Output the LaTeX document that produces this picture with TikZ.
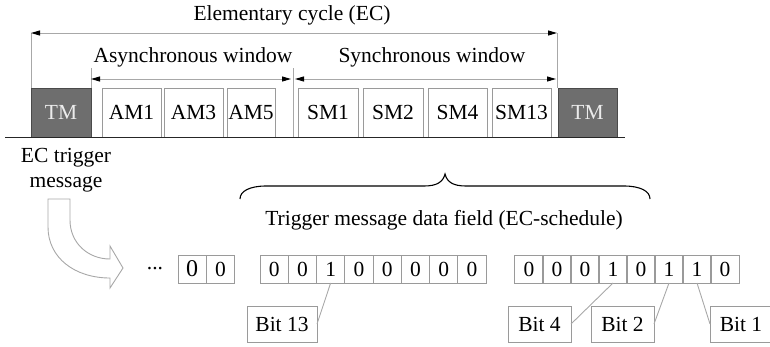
\documentclass[tikz,border=0pt]{standalone}
\usepackage{fontspec}
\setmainfont{Liberation Serif}
\usetikzlibrary{arrows.meta}
\definecolor{tmfill}{HTML}{6E6E6E}
\definecolor{tmdraw}{HTML}{4A4A4A}
\definecolor{boxgray}{HTML}{9A9A9A}
\definecolor{linegray}{HTML}{A8A8A8}
\newcommand{\myfs}{\fontsize{21.5}{26}\selectfont}
\tikzset{
  txt/.style={font=\myfs, inner sep=0pt},
  blk/.style={draw=boxgray, line width=1pt, fill=white, minimum height=49pt, inner sep=0pt, outer sep=0pt, font=\myfs},
  tmblk/.style={blk, draw=tmdraw, fill=tmfill, text=white!92!black},
  cell/.style={draw=boxgray, line width=0.9pt, minimum width=28.25pt, minimum height=28pt, inner sep=0pt, outer sep=0pt, font=\myfs},
  bitbox/.style={draw=boxgray, line width=0.9pt, minimum height=36pt, inner sep=0pt, outer sep=0pt, font=\myfs},
  marker/.style={draw=linegray, line width=0.9pt},
  dimarrow/.style={draw=linegray, line width=0.9pt, {Triangle[length=9pt,width=5pt,color=black]}-{Triangle[length=9pt,width=5pt,color=black]}},
  leader/.style={draw=linegray, line width=0.9pt},
}
\begin{document}
\begin{tikzpicture}[x=1pt,y=-1pt]
\useasboundingbox (0,0) rectangle (770,346);

% texts at top
\node[txt] (ectxt) at (292,15) {Elementary cycle (EC)};
\node[txt] (asyn) at (193,57) {Asynchronous window};
\node[txt] (syn) at (432,57) {Synchronous window};

% blocks
\node[tmblk, minimum width=60pt] (tm1) at (61,112.5) {TM};
\node[blk, minimum width=59pt] (am1) at (131.5,112.5) {AM1};
\node[blk, minimum width=59pt] (am3) at (193.5,112.5) {AM3};
\node[blk, minimum width=48pt] (am5) at (251,112.5) {AM5};
\node[blk, minimum width=60pt] (sm1) at (328,112.5) {SM1};
\node[blk, minimum width=60pt] (sm2) at (393,112.5) {SM2};
\node[blk, minimum width=59pt] (sm4) at (457.5,112.5) {SM4};
\node[blk, minimum width=59pt] (sm13) at (521.5,112.5) {SM13};
\node[tmblk, minimum width=59pt] (tm2) at (587.5,112.5) {TM};

% baseline
\coordinate (bl0) at (5,137.5);
\coordinate (bl1) at (625,137.5);
\draw[line width=1.6pt, draw=black!85] (bl0) -- (bl1);

% markers
\coordinate (ecL) at (31,33);
\coordinate (ecR) at (557,33);
\coordinate (ecRB) at (557,88);
\coordinate (tmR) at (91,68);
\coordinate (mid) at (293,68);
\coordinate (midB) at (293,137);
\draw[marker] (ecL) -- (tm1.north west);
\draw[marker] (ecR) -- (ecRB);
\draw[marker] (tmR) -- (tm1.north east);
\draw[marker] (mid) -- (midB);

% dimension arrows
\coordinate (aL) at (91,79);
\coordinate (aR) at (291,79);
\coordinate (sL) at (295,79);
\coordinate (sR) at (556,79);
\draw[dimarrow] (ecL) -- (ecR);
\draw[dimarrow] (aL) -- (aR);
\draw[dimarrow] (sL) -- (sR);

% EC trigger message
\node[txt, align=center, font=\fontsize{21.5}{25}\selectfont] (ectrig) at (66,170.5) {EC trigger\\message};

% hollow curved arrow
\draw[draw=linegray, line width=0.9pt, fill=white, line join=miter]
  (48,199) -- (48,227) .. controls (48,258) and (75,278) .. (110,278)
  -- (110,288) -- (123,268) -- (110,246) -- (110,259)
  .. controls (88,259) and (70,243) .. (70,220) -- (70,199) -- cycle;

% brace
\draw[line width=1.1pt] (240,199) .. controls (240,191) and (250,186) .. (266,186)
  -- (424,186) .. controls (437,186) and (443,182) .. (445,174)
  .. controls (447,182) and (453,186) .. (466,186)
  -- (624,186) .. controls (640,186) and (650,191) .. (650,199);
\node[txt] (trigtxt) at (444,220) {Trigger message data field (EC-schedule)};

% dots
\node[txt] (dots) at (155,269) {...};

% group 1
\node[cell, font=\fontsize{24}{26}\selectfont] (g1c1) at (192.1,269) {0};
\node[cell] (g1c2) at (220.4,269) {0};

% group 2
\foreach \v [count=\i] in {0,0,1,0,0,0,0,0} {
  \node[cell] (g2c\i) at ({260+(\i-0.5)*28.25},269) {\v};
}
% group 3
\foreach \v [count=\i] in {0,0,0,1,0,1,1,0} {
  \node[cell] (g3c\i) at ({515+(\i-0.5)*28},269) {\v};
}

% bit labels
\node[bitbox, minimum width=70pt] (b13) at (282,324) {Bit 13};
\node[bitbox, minimum width=63pt] (b4) at (539.5,324) {Bit 4};
\node[bitbox, minimum width=63pt] (b2) at (622.5,324) {Bit 2};
\node[bitbox, minimum width=62pt] (b1) at (741,324) {Bit 1};

\draw[leader] (g2c3.south) -- (b13.east);
\draw[leader] (g3c4.south) -- (b4.east);
\draw[leader] (g3c6.south) -- (b2.east);
\draw[leader] (g3c7.south) -- (b1.west);
\end{tikzpicture}
\end{document}
